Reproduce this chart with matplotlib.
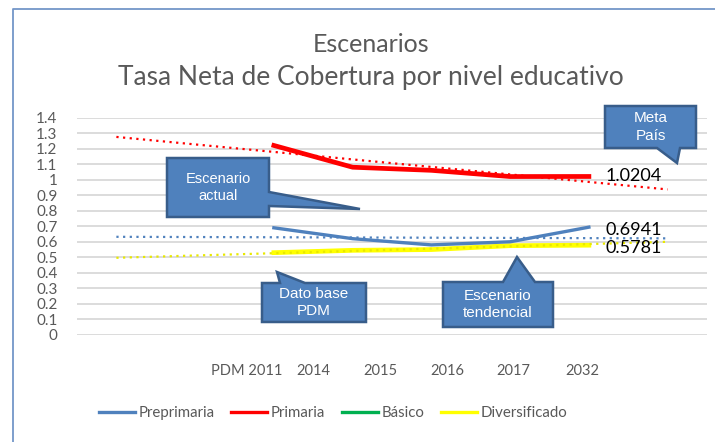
import matplotlib
matplotlib.use('Agg')
import matplotlib.pyplot as plt
from matplotlib.patches import Polygon
from matplotlib.lines import Line2D
from matplotlib.transforms import Affine2D
import numpy as np

# series values (categories PDM 2011 .. 2017 sit on slots 2..6 of an 8-slot axis)
periods = ['PDM 2011', '2014', '2015', '2016', '2017']
preprimaria = [0.69, 0.62, 0.58, 0.60, 0.6941]
primaria = [1.22, 1.08, 1.06, 1.02, 1.0204]
basico = [0.53, 0.545, 0.55, 0.575, 0.5781]
diversificado = [0.53, 0.545, 0.55, 0.575, 0.5781]

# linear trend lines, read at first and last slot
trend_pre = [0.632, 0.622]
trend_pri = [1.275, 0.937]
trend_div = [0.497, 0.600]

tick_labels = ['PDM 2011', '2014', '2015', '2016', '2017', '2032']
tick_pos = [1.66, 2.50, 3.35, 4.20, 5.04, 5.92]

n_slots = 8
first_slot = 2

W, H = 715, 442
GRAY = '#595959'
plt.rcParams['font.family'] = ['Lato', 'DejaVu Sans']

fig = plt.figure(figsize=(W / 100, H / 100), dpi=100)
ax = fig.add_axes([77 / W, 1 - 335 / H, 630 / W, 217.5 / H])

x = np.arange(first_slot, first_slot + len(periods))
ax.plot(x, basico, color='#00B050', lw=2, label='Básico', zorder=2)
ax.plot(x, diversificado, color='#FFFF00', lw=3.4, label='Diversificado', zorder=3)
ax.plot(x, preprimaria, color='#4F81BD', lw=2.4, label='Preprimaria', zorder=3)
ax.plot(x, primaria, color='#FF0000', lw=3.4, label='Primaria', zorder=3)

xt = [0, n_slots - 1]
dot = (0, (1, 2))
ax.plot(xt, trend_pre, color='#4F81BD', lw=1.6, ls=dot, zorder=4)
ax.plot(xt, trend_pri, color='#FF0000', lw=1.6, ls=dot, zorder=4)
ax.plot(xt, trend_div, color='#E8E800', lw=1.6, ls=dot, zorder=4)

# data labels on the last point
for vals, dy in [(primaria, 0), (preprimaria, -3), (diversificado, -3)]:
    ax.annotate(f'{vals[-1]:.4f}', xy=(x[-1], vals[-1]), xytext=(17, dy),
                textcoords='offset pixels', ha='left', va='center',
                fontsize=13, color='black', zorder=5)

ax.set_xlim(-0.5, n_slots - 0.5)
ax.set_ylim(0, 1.4)
yt = np.round(np.arange(0, 1.41, 0.1), 1)
ax.set_yticks(yt)
ax.set_yticklabels([f'{v:g}' for v in yt])
ax.set_xticks(tick_pos)
ax.set_xticklabels(tick_labels)
ax.tick_params(axis='y', length=0, pad=14, labelsize=11, labelcolor=GRAY)
ax.tick_params(axis='x', length=0, pad=21, labelsize=10.5, labelcolor=GRAY)
ax.grid(axis='y', color='#D9D9D9', lw=1.3)
ax.set_axisbelow(True)
for s in ax.spines.values():
    s.set_visible(False)

# title
fig.text(371 / W, 1 - 45 / H, 'Escenarios', ha='center', va='center',
         fontsize=18, color=GRAY)
fig.text(371 / W, 1 - 78 / H, 'Tasa Neta de Cobertura por nivel educativo',
         ha='center', va='center', fontsize=19, color=GRAY)

# legend
handles, labels = ax.get_legend_handles_labels()
order = ['Preprimaria', 'Primaria', 'Básico', 'Diversificado']
hmap = dict(zip(labels, handles))
leg_h = [Line2D([], [], color=hmap[k].get_color(), lw=2.4) for k in order]
fig.legend(leg_h, order, loc='center', bbox_to_anchor=(333 / W, 1 - 413 / H),
           ncol=4, frameon=False, fontsize=10.8, labelcolor=GRAY,
           handlelength=2.4, handletextpad=0.25, columnspacing=1.1)

# outer border (left and top visible)
px = Affine2D().scale(1 / W, -1 / H).translate(0, 1) + fig.transFigure
fig.add_artist(Line2D([13, 13, W + 5], [H + 5, 9, 9], color='#7396C8', lw=1.3, transform=px))


def callout(box, side, base, tip, text, size, spacing):
    x0, y0, x1, y1 = box
    pts = [(x0, y0)]
    if side == 'top':
        pts += [(base[0], y0), tip, (base[1], y0)]
    pts.append((x1, y0))
    if side == 'right':
        pts += [(x1, base[0]), tip, (x1, base[1])]
    pts.append((x1, y1))
    if side == 'bottom':
        pts += [(base[1], y1), tip, (base[0], y1)]
    pts.append((x0, y1))
    fig.add_artist(Polygon(pts, closed=True, fc='#4F81BD', ec='#385D8A', lw=1.8,
                           joinstyle='miter', transform=px))
    fig.text((x0 + x1) / 2 / W, 1 - (y0 + y1) / 2 / H, text, ha='center', va='center',
             color='white', fontsize=size, family='Liberation Sans',
             linespacing=spacing)


callout((167, 158, 269, 217), 'right', (192, 206), (360, 209), 'Escenario\nactual', 10.5, 1.2)
callout((262, 283, 366, 322), 'top', (280, 305), (277, 272), 'Dato base\nPDM', 11, 1.35)
callout((443, 282, 553, 327), 'top', (503, 535), (517, 257), 'Escenario\ntendencial', 11, 1.35)
callout((605, 106, 696, 148), 'bottom', (657, 680), (677, 163), 'Meta\nPaís', 11, 1.3)

fig.savefig('out.png', dpi=100)
